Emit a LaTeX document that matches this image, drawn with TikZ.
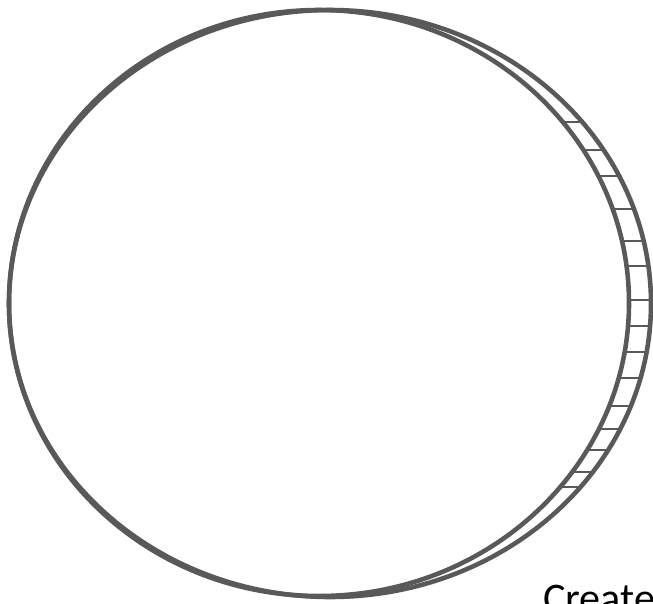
\documentclass[tikz,border=0pt]{standalone}
\usepackage{fontspec}
\setmainfont{Carlito}
\usepackage{tikz}
\definecolor{rimgray}{HTML}{595959}

\begin{document}
\begin{tikzpicture}[x=0.02cm, y=-0.02cm,
    rim/.style={draw=rimgray, line width=2.6pt},
    rung/.style={draw=rimgray, line width=1.1pt}]
  \useasboundingbox (0,0) rectangle (653,603);
  \draw[rim] (319,303) ellipse [x radius=310, y radius=293];
  \draw[rim] (330,303.5) ellipse [x radius=321, y radius=293.5];
  % rungs between the two rims
  \foreach \ry in {122,150,176,209,241,266,300,326,352,378,406,429,450,472,487} {
    \pgfmathsetmacro{\ra}{asin((\ry-303)/293)}
    \draw[rung] ({319+310*cos(\ra)},\ry) -- ({330+321*cos(\ra)},\ry);
  }
  \node (credit) [anchor=base west, font=\fontsize{24}{29}\selectfont, inner sep=0pt] at (543,612) {Create};
\end{tikzpicture}
\end{document}
